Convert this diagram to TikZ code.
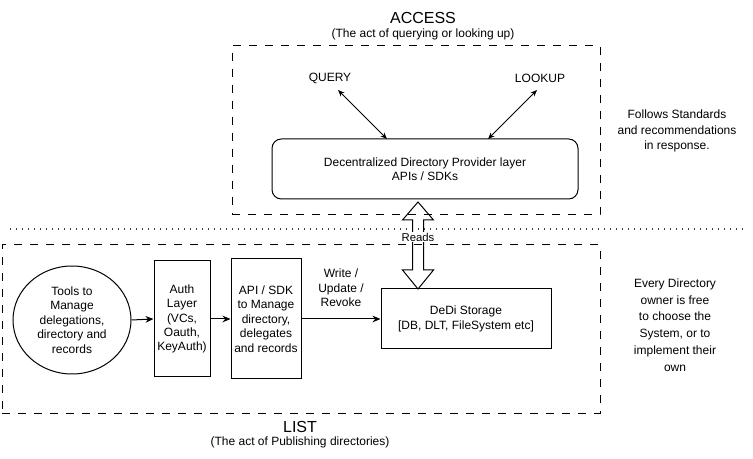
\documentclass[tikz,border=0pt]{standalone}
\usepackage{fontspec}
\setmainfont{Liberation Sans}
\usetikzlibrary{arrows.meta,shapes.geometric}
\begin{document}
\begin{tikzpicture}[x=0.75pt,y=-0.75pt,
  font=\fontsize{9}{10.8}\selectfont,
  zone/.style={draw, dash pattern=on 6pt off 6pt, line width=0.75pt, inner sep=0},
  box/.style={draw, line width=0.75pt, align=center, inner sep=0},
  lbl/.style={align=center, inner sep=0},
  title/.style={align=center, inner sep=0, font=\fontsize{12}{14}\selectfont},
  link/.style={-{Stealth[length=6pt,width=5pt]}, line width=0.75pt},
  dlink/.style={{Stealth[length=5pt,width=4pt]}-{Stealth[length=5pt,width=4pt]}, line width=0.6pt},
  blockarrow/.style={draw, line width=0.75pt, line join=miter},
  sep/.style={line width=1.1pt, dash pattern=on 1.1pt off 3.4pt, black!75}
]
\useasboundingbox (0,0) rectangle (753,459);

% zones
\node[zone, minimum width=276pt, minimum height=126.75pt] (access) at (416,130.5) {};
\node[zone, minimum width=448.5pt, minimum height=126pt] (list) at (301,329) {};

% separator
\coordinate (s1) at (10,229);
\coordinate (s2) at (745,229);
\draw[sep] (s1) -- (s2);

% titles
\node[title] (accesst) at (423,18) {ACCESS};
\node[lbl] (accesss) at (423,34) {(The act of querying or looking up)};
\node[title] (listt) at (300,427) {LIST};
\node[lbl] (lists) at (300,442) {(The act of Publishing directories)};

% access part
\node[lbl] (query) at (330,78) {QUERY};
\node[lbl] (lookup) at (540,78) {LOOKUP};
\node[box, rounded corners=7pt, minimum width=229.5pt, minimum height=45pt] (dpl) at (425,169)
  {Decentralized Directory Provider layer\\APIs / SDKs};
\coordinate (qa) at (338,90);
\coordinate (qb) at (387,139);
\coordinate (la) at (537,90);
\coordinate (lb) at (488,139);
\draw[dlink] (qa) -- (qb);
\draw[dlink] (la) -- (lb);

% list part
\node[draw, ellipse, line width=0.75pt, minimum width=88.5pt, minimum height=81pt, inner sep=0, align=center] (tools) at (72,320)
  {Tools to\\Manage\\delegations,\\directory and\\records};
\node[box, minimum width=42pt, minimum height=87pt] (auth) at (182,319)
  {Auth\\Layer\\(VCs,\\Oauth,\\KeyAuth)};
\node[box, minimum width=52.5pt, minimum height=90pt] (api) at (266,319)
  {API / SDK\\to Manage\\directory,\\delegates\\and records};
\node[box, minimum width=127.5pt, minimum height=45pt] (dedi) at (466,319)
  {DeDi Storage\\{[DB, DLT, FileSystem etc]}};

\draw[link] (tools.east) -- (auth.west);
\draw[link] (auth.east |- api.west) -- (api.west);
\draw[link] (api.east) -- (dedi.west);
\node[lbl] (wlabel) at (341,288) {Write /\\Update /\\Revoke};

% reads block arrow
\coordinate (rtop) at (418,202);
\coordinate (rbot) at (418,289);
\draw[blockarrow] (rtop) -- ++(15.5,18) -- ++(-10,0) -- ++(0,50) -- ++(10,0) -- (rbot)
  -- ++(-15.5,-19) -- ++(10,0) -- ++(0,-50) -- ++(-10,0) -- cycle;
\node[lbl, fill=white, inner sep=1pt, font=\fontsize{8.5}{10}\selectfont] (reads) at (418,237) {Reads};

% side notes
\node[lbl, font=\fontsize{9}{11.8}\selectfont] (note1) at (677,131)
  {Follows Standards\\and recommendations\\in response.};
\node[lbl, font=\fontsize{9}{12.6}\selectfont] (note2) at (675,325)
  {Every Directory\\owner is free\\to choose the\\System, or to\\implement their\\own};
\end{tikzpicture}
\end{document}
